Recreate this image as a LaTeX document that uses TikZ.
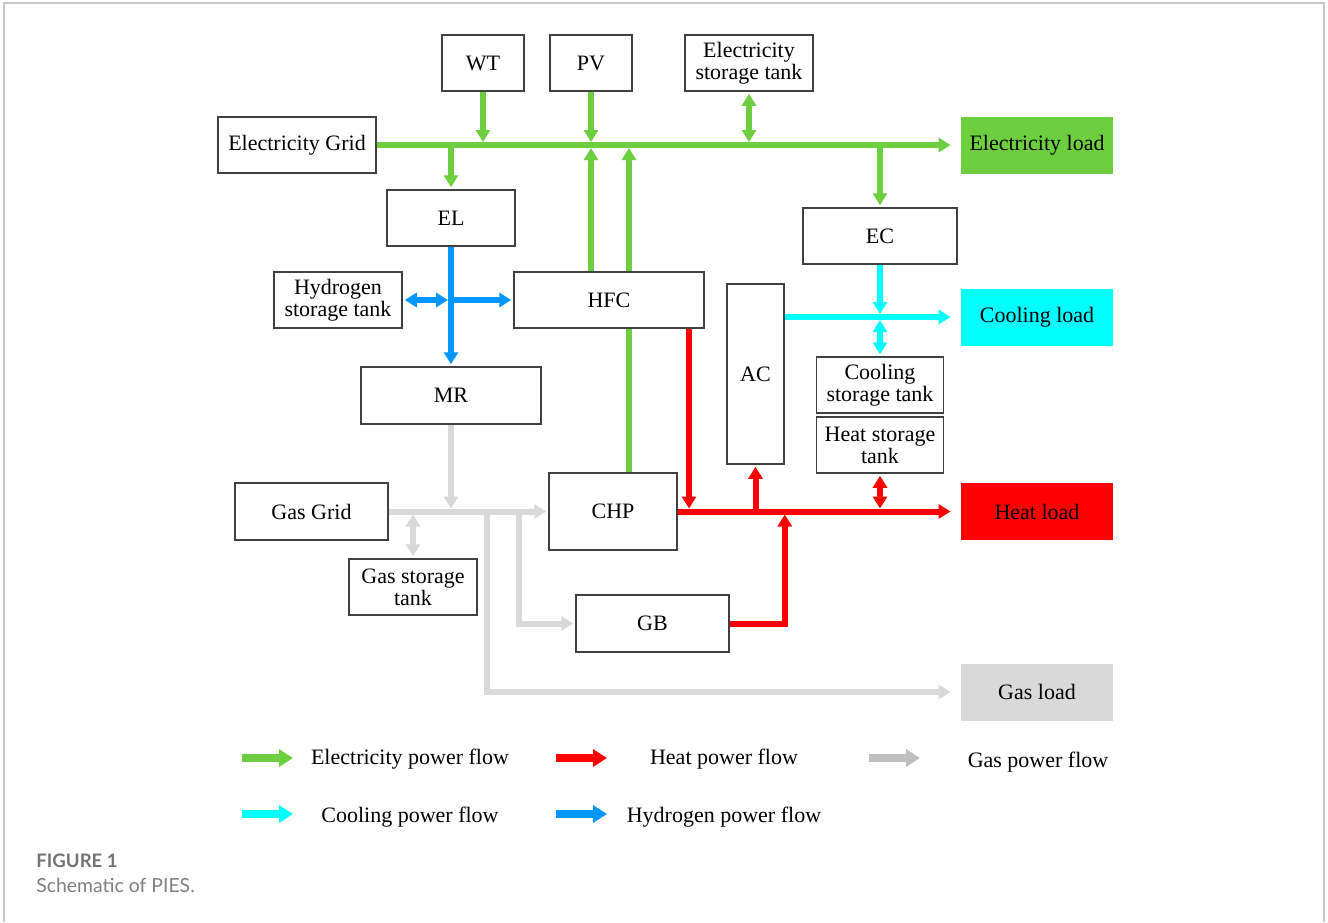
\documentclass[tikz,border=0pt]{standalone}
\usepackage{fontspec}
\setmainfont{Liberation Serif}
\newfontfamily\capfont{Lato}
\usetikzlibrary{arrows.meta,backgrounds}

\definecolor{elecgreen}{RGB}{109,207,64}
\definecolor{heatred}{RGB}{255,0,0}
\definecolor{gasgray}{RGB}{217,217,217}
\definecolor{legendgray}{RGB}{191,191,191}
\definecolor{coolcyan}{RGB}{0,255,255}
\definecolor{hydblue}{RGB}{0,150,255}
\definecolor{boxline}{RGB}{64,64,64}
\definecolor{framegray}{RGB}{200,200,200}

\tikzset{
  >={Triangle[length=6pt,width=7pt]},
  box/.style={draw=boxline, line width=0.75pt, fill=white, inner sep=1pt,
    align=center, font=\fontsize{11}{11}\selectfont,
    minimum width=64pt, minimum height=28pt},
  loadbox/.style={fill=#1, inner sep=1pt, font=\fontsize{11}{11}\selectfont,
    minimum width=76pt, minimum height=28.5pt},
  flow/.style={line width=3pt},
  elec/.style={flow, draw=elecgreen},
  heat/.style={flow, draw=heatred},
  gas/.style={flow, draw=gasgray},
  cool/.style={flow, draw=coolcyan},
  hyd/.style={flow, draw=hydblue},
  legarrow/.style={line width=4pt, -{Triangle[length=7pt,width=8.5pt]}},
  legtext/.style={font=\fontsize{11}{11}\selectfont}
}

\begin{document}
\begin{tikzpicture}[x=0.5pt,y=-0.5pt]
  \useasboundingbox (0,0) rectangle (1328,922);
  \draw[framegray, line width=0.75pt] (4,922) -- (4,3) -- (1324,3) -- (1324,922);

  % components
  \node[box, minimum width=41pt] (wt) at (483,63) {WT};
  \node[box, minimum width=41pt] (pv) at (591,63) {PV};
  \node[box] (est) at (749,63) {Electricity\\storage tank};
  \node[box, minimum width=79pt] (egrid) at (297,145) {Electricity Grid};
  \node[loadbox=elecgreen] (eload) at (1037,145) {Electricity load};
  \node[box] (el) at (451,218) {EL};
  \node[box, minimum width=77pt] (ec) at (880,236) {EC};
  \node[box] (htank) at (338,300) {Hydrogen\\storage tank};
  \node[box, minimum width=95pt] (hfc) at (609,300) {HFC};
  \node[box, minimum width=28.5pt, minimum height=90pt] (ac) at (755.5,374) {AC};
  \node[loadbox=coolcyan] (cload) at (1037,317) {Cooling load};
  \node[box, minimum width=63.5pt] (ctank) at (880,385) {Cooling\\storage tank};
  \node[box, minimum width=63.5pt] (htst) at (880,445) {Heat storage\\tank};
  \node[box, minimum width=90pt, minimum height=28.5pt] (mr) at (451,395.5) {MR};
  \node[box, minimum width=76.5pt, minimum height=28.5pt] (ggrid) at (311.5,511.5) {Gas Grid};
  \node[box, minimum height=38.5pt] (chp) at (613,511.5) {CHP};
  \node[loadbox=heatred] (hload) at (1037,511.5) {Heat load};
  \node[box] (gtank) at (413,587) {Gas storage\\tank};
  \node[box, minimum width=76.5pt, minimum height=28.5pt] (gb) at (652.5,623.5) {GB};
  \node[loadbox=gasgray] (gload) at (1037,692) {Gas load};

  % electricity
  \draw[elec, ->, shorten >=5pt] (egrid.east) -- (eload.west);
  \draw[elec, ->, shorten >=1.5pt] (wt.south) -- (wt.south |- egrid.east);
  \draw[elec, ->, shorten >=1.5pt] (pv.south) -- (pv.south |- egrid.east);
  \draw[elec, <->, shorten <=1pt, shorten >=1.5pt] (est.south) -- (est.south |- egrid.east);
  \draw[elec, ->, shorten >=1pt] (egrid.east -| el.north) -- (el.north);
  \draw[elec, ->, shorten >=1pt] (egrid.east -| ec.north) -- (ec.north);
  \draw[elec, ->, shorten >=1.5pt] (pv.south |- hfc.north) -- (pv.south |- egrid.east);
  \begin{scope}[on background layer]
    \draw[elec, ->, shorten >=1.5pt] ([xshift=8pt]chp.north) -- ([xshift=8pt]chp.north |- egrid.east);
  \end{scope}

  % hydrogen
  \coordinate (hjoin) at (el.south |- hfc.west);
  \draw[hyd, ->, shorten >=1pt] (el.south) -- (mr.north);
  \draw[hyd, ->, shorten >=1pt] (hjoin) -- (hfc.west);
  \draw[hyd, <->, shorten <=1pt, shorten >=1.5pt] (htank.east) -- (hjoin);

  % cooling
  \draw[cool, ->, shorten >=1.5pt] (ec.south) -- (ec.south |- cload.west);
  \draw[cool, ->, shorten >=5pt] (ac.east |- cload.west) -- (cload.west);
  \draw[cool, <->, shorten <=1pt, shorten >=1.5pt] (ctank.north) -- (ctank.north |- cload.west);

  % heat
  \draw[heat, ->, shorten >=5pt] (chp.east) -- (hload.west);
  \draw[heat, ->, shorten >=1.5pt] ([xshift=40pt]hfc.south) -- ([xshift=40pt]hfc.south |- hload.west);
  \draw[heat, ->, shorten >=1pt] (ac.south |- hload.west) -- (ac.south);
  \draw[heat, <->, shorten <=1pt, shorten >=1.5pt] (htst.south) -- (htst.south |- hload.west);
  \draw[heat, ->, shorten >=1.5pt] (gb.east) -| (ac.east |- hload.west);

  % gas
  \coordinate (gsplit1) at (519,511.5);
  \coordinate (gsplit2) at (487,511.5);
  \draw[gas, ->, shorten >=1pt] (ggrid.east) -- (chp.west);
  \draw[gas, ->, shorten >=1.5pt] (mr.south) -- (mr.south |- ggrid.east);
  \draw[gas, <->, shorten <=1pt, shorten >=1.5pt] (gtank.north) -- (gtank.north |- ggrid.east);
  \draw[gas, ->, shorten >=1pt] (gsplit1) |- (gb.west);
  \draw[gas, ->, shorten >=5pt] (gsplit2) |- (gload.west);

  % legend
  \draw[legarrow, elecgreen] (242,758) -- (293,758);
  \node[legtext] (lelec) at (410,759) {Electricity power flow};
  \draw[legarrow, heatred] (556,758) -- (607,758);
  \node[legtext] (lheat) at (724,759) {Heat power flow};
  \draw[legarrow, legendgray] (869,758) -- (920,758);
  \node[legtext] (lgas) at (1038,762) {Gas power flow};
  \draw[legarrow, coolcyan] (242,814) -- (293,814);
  \node[legtext] (lcool) at (410,817) {Cooling power flow};
  \draw[legarrow, hydblue] (556,814) -- (607,814);
  \node[legtext] (lhyd) at (724,817) {Hydrogen power flow};

  % caption
  \node[anchor=west, inner sep=0pt, font=\capfont\bfseries\fontsize{9.3}{11}\selectfont, text=black!55] (figlabel) at (36,861) {FIGURE 1};
  \node[anchor=west, inner sep=0pt, font=\capfont\fontsize{9.7}{12}\selectfont, text=black!50] (figcap) at (36,885) {Schematic of PIES.};
\end{tikzpicture}
\end{document}
